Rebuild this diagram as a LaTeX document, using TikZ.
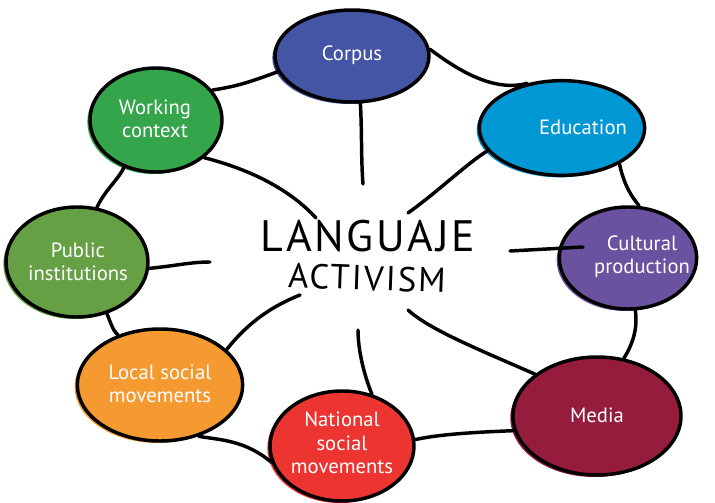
\documentclass[tikz,border=0pt]{standalone}
\usepackage{fontspec}
\setmainfont{PT Sans}
\newfontfamily\handfont{PT Sans}[LetterSpace=6]
\usetikzlibrary{shapes.geometric,calc}
\definecolor{cCorpus}{HTML}{4355A4}
\definecolor{cEdu}{HTML}{0098D4}
\definecolor{cCult}{HTML}{6B52A0}
\definecolor{cMedia}{HTML}{961C3E}
\definecolor{cNat}{HTML}{EC3430}
\definecolor{cLocal}{HTML}{F59A30}
\definecolor{cPublic}{HTML}{66A044}
\definecolor{cWork}{HTML}{34A54A}
\begin{document}
\begin{tikzpicture}[x=0.75pt,y=-0.75pt,
  blob/.style={ellipse, draw=black, line width=2.6pt, inner sep=0pt, fill=#1,
    preaction={fill=#1, transform canvas={xshift=-2pt,yshift=-1.5pt}}},
  lab/.style={text=white, font=\fontsize{15.5}{17.5}\selectfont, align=center, inner sep=1pt},
  conn/.style={line width=2.6pt, line cap=round}]
\useasboundingbox (0,0) rectangle (715,503);

% ellipses
\node[blob=cCorpus, minimum width=115.5pt, minimum height=69pt] (corpus) at (352,56) {};
\node[blob=cEdu, minimum width=124pt, minimum height=71pt] (education) at (562,128) {};
\node[blob=cCult, minimum width=103pt, minimum height=76.5pt] (cultural) at (628,258) {};
\node[blob=cMedia, minimum width=126pt, minimum height=88.5pt] (media) at (597,416) {};
\node[blob=cNat, minimum width=108pt, minimum height=82.5pt] (national) at (342,446) {};
\node[blob=cLocal, minimum width=124pt, minimum height=84pt] (local) at (160,385) {};
\node[blob=cPublic, minimum width=106.5pt, minimum height=82.5pt] (public) at (77,262) {};
\node[blob=cWork, minimum width=99pt, minimum height=78pt] (working) at (156,120) {};

% labels
\node[lab] (corpusT) at (352,55) {Corpus};
\node[lab] (educationT) at (583,127) {Education};
\node[lab] (culturalT) at (642,257) {Cultural\\production};
\node[lab] (mediaT) at (597,415) {Media};
\node[lab] (nationalT) at (342,443) {National\\social\\movements};
\node[lab] (localT) at (160,384) {Local social\\movements};
\node[lab] (publicT) at (78,262) {Public\\institutions};
\node[lab] (workingT) at (155,119) {Working\\context};

% centre text
\node[font=\handfont\fontsize{33}{33}\selectfont, inner sep=0pt] (lang) at (368,236) {LANGUAJE};
\node[font=\handfont\fontsize{26}{26}\selectfont, inner sep=0pt, rotate=-2] (act) at (367,278) {ACTIVISM};

% free ends near the centre
\coordinate (e2) at (316,218);
\coordinate (e3) at (363,184);
\coordinate (e5) at (408,213);
\coordinate (e7) at (510,251);
\coordinate (c7) at (583,247);
\coordinate (e9) at (408,310);
\coordinate (e11) at (358,330);
\coordinate (e13) at (300,295);
\coordinate (e15) at (210,262);

% ring connectors
\draw[conn] (corpus.192) .. controls (255,80) and (240,86) .. (working.28);
\draw[conn] (corpus.5) .. controls (460,72) and (495,92) .. (education.128);
\draw[conn] (education.-32) .. controls (625,190) and (635,200) .. (cultural.78);
\draw[conn] (cultural.-82) .. controls (638,330) and (632,345) .. (media.65);
\draw[conn] (media.190) .. controls (480,432) and (440,434) .. (national.5);
\draw[conn] (national.193) .. controls (245,440) and (220,440) .. (local.-53);
\draw[conn] (local.130) .. controls (112,330) and (110,320) .. (public.-60);
\draw[conn] (public.70) .. controls (105,190) and (118,180) .. (working.-124);

% spokes
\draw[conn] (working.-38) .. controls (260,172) and (295,195) .. (e2);
\draw[conn] (corpus.-80) .. controls (362,130) and (361,160) .. (e3);
\draw[conn] (education.197) .. controls (465,165) and (440,190) .. (e5);
\draw[conn] (e7) -- (c7);
\draw[conn] (media.146) .. controls (480,350) and (430,330) .. (e9);
\draw[conn] (national.60) .. controls (364,375) and (358,350) .. (e11);
\draw[conn] (local.28) .. controls (250,320) and (275,305) .. (e13);
\draw[conn] (public.-5) .. controls (175,266) and (190,262) .. (e15);
\end{tikzpicture}
\end{document}
